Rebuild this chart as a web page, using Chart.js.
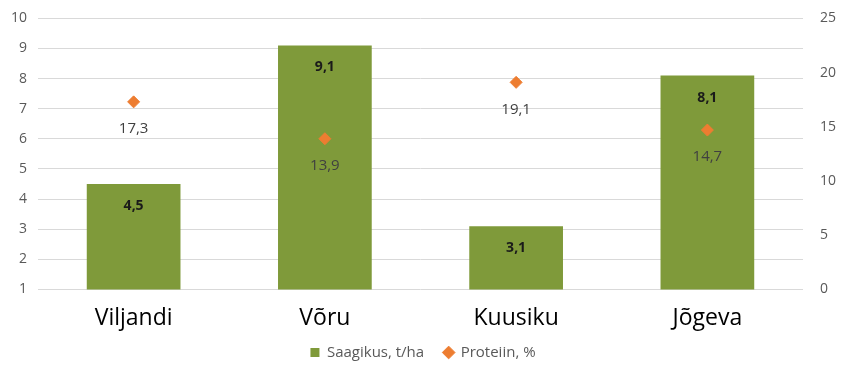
<!DOCTYPE html>
<html>
<head>
<meta charset="utf-8">
<script src="https://cdn.jsdelivr.net/npm/chart.js@4.4.1/dist/chart.umd.min.js"></script>
<style>
  body { margin: 0; background: #fff; }
  #wrap { width: 846px; height: 365px; overflow: hidden; }
  #graafik { display: block; margin-top: -7px; }
</style>
</head>
<body>
<div id="wrap"><canvas id="graafik" width="846" height="377"></canvas></div>
<script>
const kohad = ["Viljandi", "Võru", "Kuusiku", "Jõgeva"];
const saagikus = [4.5, 9.1, 3.1, 8.1];
const proteiin = [17.3, 13.9, 19.1, 14.7];

// väärtuste sildid tulpade ja punktide juurde
const siltPlugin = {
  id: "sildid",
  afterDatasetsDraw(chart) {
    const ctx = chart.ctx;
    ctx.save();
    ctx.textAlign = "center";
    ctx.textBaseline = "middle";
    chart.getDatasetMeta(0).data.forEach((el, i) => {
      ctx.font = "bold 14px 'Open Sans'";
      ctx.fillStyle = "#1a1a1a";
      ctx.fillText(saagikus[i].toFixed(1).replace(".", ","), el.x, el.y + 22);
    });
    chart.getDatasetMeta(1).data.forEach((el, i) => {
      ctx.font = "15px 'Open Sans'";
      ctx.fillStyle = "#404040";
      ctx.fillText(proteiin[i].toFixed(1).replace(".", ","), el.x, el.y + 27);
    });
    ctx.restore();
  }
};

new Chart(document.getElementById("graafik"), {
  data: {
    labels: kohad,
    datasets: [
      {
        type: "bar",
        label: "Saagikus, t/ha",
        data: saagikus,
        backgroundColor: "#7f9a3a",
        yAxisID: "y",
        barPercentage: 0.49,
        categoryPercentage: 1,
        pointStyle: "rect",
        order: 2
      },
      {
        type: "line",
        label: "Proteiin, %",
        data: proteiin,
        yAxisID: "y2",
        showLine: false,
        pointStyle: "rectRot",
        pointRadius: 6,
        pointHoverRadius: 6,
        backgroundColor: "#ed7d31",
        borderColor: "#ed7d31",
        order: 1
      }
    ]
  },
  options: {
    responsive: false,
    animation: false,
    layout: { padding: { top: 0, left: 0, right: 0, bottom: 0 } },
    plugins: {
      legend: {
        position: "bottom",
        labels: {
          usePointStyle: true,
          boxWidth: 9,
          boxHeight: 9,
          padding: 20,
          color: "#595959",
          font: { family: "'Open Sans'", size: 15 },
          sort: (a, b) => a.datasetIndex - b.datasetIndex
        }
      },
      tooltip: { enabled: false }
    },
    scales: {
      x: {
        grid: { display: false },
        border: { display: false },
        afterFit: (ax) => {
          ax.height -= 14;
          ax._computeLabelArea = () => null; // ära lõika silte telje kasti järgi
        },
        ticks: { color: "#000", font: { family: "'Open Sans'", size: 23 }, padding: 7 }
      },
      y: {
        position: "left",
        min: 1,
        max: 10,
        afterFit: (ax) => { ax.width = 38; },
        ticks: { stepSize: 1, color: "#595959", font: { family: "'Open Sans'", size: 14 }, padding: 11 },
        grid: { color: "#d9d9d9", drawTicks: false },
        border: { display: false }
      },
      y2: {
        position: "right",
        min: 0,
        max: 25,
        afterFit: (ax) => { ax.width = 43; },
        ticks: { stepSize: 5, color: "#595959", font: { family: "'Open Sans'", size: 14 }, padding: 17 },
        grid: { display: false, drawTicks: false },
        border: { display: false }
      }
    }
  },
  plugins: [siltPlugin]
});
</script>
</body>
</html>
